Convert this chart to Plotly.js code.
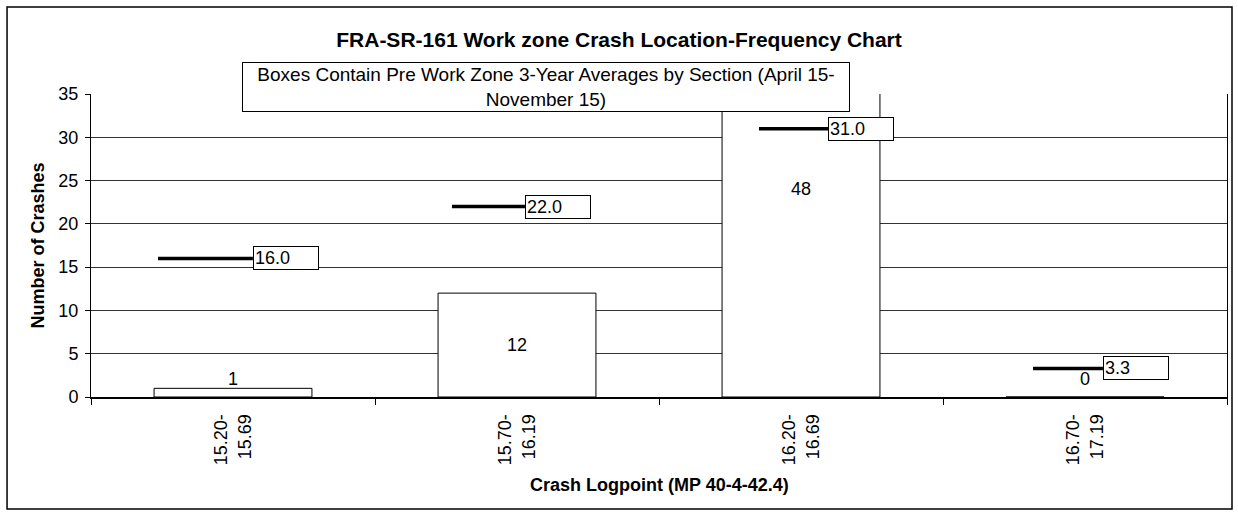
<!DOCTYPE html>
<html>
<head>
<meta charset="utf-8">
<script src="https://cdn.plot.ly/plotly-3.0.1.min.js"></script>
<style>html,body{margin:0;padding:0;background:#fff;}#chart{width:1238px;height:512px;}</style>
</head>
<body>
<div id="chart"></div>
<script>
// ---- data ----
const categories = ['15.20-15.69', '15.70-16.19', '16.20-16.69', '16.70-17.19'];
const tickLabels = ['15.20-<br>15.69', '15.70-<br>16.19', '16.20-<br>16.69', '16.70-<br>17.19'];
const crashes = [1, 12, 48, 0];
const preAverages = [16.0, 22.0, 31.0, 3.3];
const chartTitle = 'FRA-SR-161 Work zone Crash Location-Frequency Chart';
const noteText = 'Boxes Contain Pre Work Zone 3-Year Averages by Section (April 15-<br>November 15)';
const yTitle = 'Number of Crashes';
const xTitle = 'Crash Logpoint (MP 40-4-42.4)';

// ---- placement of the hand-drawn average markers (category-width offsets) ----
const lineStart = [-0.264, -0.229, -0.148, -0.183];
const lineEnd = [0.070, 0.028, 0.095, 0.063];

const FONT = 'Liberation Sans, Arial, sans-serif';
const idx = categories.map((c, i) => i);

const lx = [], ly = [];
idx.forEach(i => { lx.push(i + lineStart[i], i + lineEnd[i], null); ly.push(preAverages[i], preAverages[i], null); });

const traces = [
  {
    type: 'bar', x: idx, y: crashes, width: 0.556,
    marker: {color: '#ffffff', line: {color: '#000000', width: 1}},
    hoverinfo: 'skip', showlegend: false
  },
  {
    type: 'scatter', mode: 'lines', x: lx, y: ly,
    line: {color: '#000000', width: 3.5}, hoverinfo: 'skip', showlegend: false, cliponaxis: false
  }
];

const annotations = [];
idx.forEach(i => {
  annotations.push({
    x: i, y: crashes[i] / 2 < 2.1 ? 2.1 : crashes[i] / 2, xref: 'x', yref: 'y',
    text: String(crashes[i]), showarrow: false,
    font: {family: FONT, size: 18, color: '#000'}, xanchor: 'center', yanchor: 'middle'
  });
  annotations.push({
    x: i + lineEnd[i], y: preAverages[i], xref: 'x', yref: 'y',
    text: preAverages[i].toFixed(1), showarrow: false,
    font: {family: FONT, size: 18, color: '#000'}, xanchor: 'left', yanchor: 'middle',
    align: 'left', width: 62, height: 20, bgcolor: '#ffffff', bordercolor: '#000000', borderwidth: 1, borderpad: 1
  });
});
annotations.push({
  x: 0.4005, y: 1.023, xref: 'paper', yref: 'paper', text: noteText, showarrow: false,
  font: {family: FONT, size: 19, color: '#000'}, align: 'center', xanchor: 'center', yanchor: 'middle',
  width: 604, height: 46, bgcolor: '#ffffff', bordercolor: '#000000', borderwidth: 1
});
annotations.push({
  x: -0.0475, y: 0.5, xref: 'paper', yref: 'paper', text: '<b>' + yTitle + '</b>', showarrow: false,
  textangle: -90, font: {family: FONT, size: 18, color: '#000'}, xanchor: 'center', yanchor: 'middle'
});
annotations.push({
  x: 0.5, y: -0.29, xref: 'paper', yref: 'paper', text: '<b>' + xTitle + '</b>', showarrow: false,
  font: {family: FONT, size: 18, color: '#000'}, xanchor: 'center', yanchor: 'middle'
});

const layout = {
  width: 1238, height: 512,
  margin: {l: 91, r: 11, t: 94, b: 115},
  paper_bgcolor: '#ffffff', plot_bgcolor: '#ffffff',
  font: {family: FONT, size: 18, color: '#000'},
  title: {text: '<b>' + chartTitle + '</b>', x: 0.5, xref: 'container', y: 0.922, yref: 'container', yanchor: 'middle',
          font: {family: FONT, size: 21, color: '#000'}},
  showlegend: false,
  bargap: 0,
  xaxis: {
    range: [-0.5, 3.5], tickmode: 'array', tickvals: idx, ticktext: tickLabels,
    tickangle: -90, ticks: '', showgrid: false, zeroline: false,
    showline: true, linecolor: '#000', linewidth: 2,
    ticklabelstandoff: 8,
    tickfont: {family: FONT, size: 18, color: '#000'},
    minor: {tickmode: 'array', tickvals: [-0.5, 0.5, 1.5, 2.5, 3.5], ticks: 'outside', ticklen: 6, tickwidth: 1, tickcolor: '#000', showgrid: false},
    fixedrange: true
  },
  yaxis: {
    range: [0, 35], dtick: 5, tick0: 0, ticks: 'outside', ticklen: 5, tickcolor: '#000', tickwidth: 1,
    showgrid: true, gridcolor: '#333', gridwidth: 1, zeroline: false,
    showline: true, linecolor: '#000', linewidth: 1, mirror: true,
    ticklabelstandoff: 3,
    tickfont: {family: FONT, size: 18, color: '#000'}, fixedrange: true
  },
  shapes: [{
    type: 'rect', xref: 'paper', yref: 'paper',
    x0: -0.0739, x1: 1.0044, y0: -0.3696, y1: 1.287,
    line: {color: '#000', width: 1.5}, fillcolor: 'rgba(0,0,0,0)', layer: 'above'
  }],
  annotations: annotations
};

Plotly.newPlot('chart', traces, layout, {displayModeBar: false, staticPlot: true});
</script>
</body>
</html>
